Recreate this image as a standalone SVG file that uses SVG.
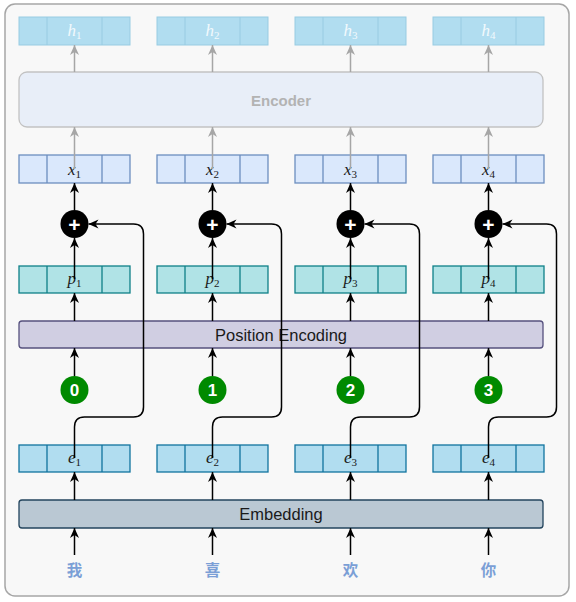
<svg xmlns="http://www.w3.org/2000/svg" width="576" height="602" viewBox="0 0 576 602">
<defs>
<style>
.frame{fill:#f8f8f8;stroke:#a6a6a6;stroke-width:1.5}
.hbox{fill:#b1ddf0;stroke:#98cbe2;stroke-width:1}
.xbox{fill:#dae8fc;stroke:#6c8ebf;stroke-width:1.3}
.pbox{fill:#b0e3e6;stroke:#0e8088;stroke-width:1.3}
.ebox{fill:#b1ddf0;stroke:#10739e;stroke-width:1.3}
.enc{fill:#e8eef8;stroke:#c2c2c2;stroke-width:1.3}
.pe{fill:#d0cee2;stroke:#56517e;stroke-width:1.3}
.emb{fill:#bac8d3;stroke:#23445d;stroke-width:1.3}
.lbl{font-family:"Liberation Serif",serif;font-style:italic;font-size:17px;fill:#1a1a1a;text-anchor:middle}
.lbl .s{font-style:normal;font-size:11px}
.hl{fill:#f2f9fd}
.bar{font-family:"Liberation Sans",Arial,sans-serif;font-size:16.5px;fill:#1a1a1a;text-anchor:middle}
.enct{font-family:"Liberation Sans",Arial,sans-serif;font-size:15px;font-weight:bold;fill:#b3b3b3;text-anchor:middle}
.plus{fill:#000}
.plust{font-family:"Liberation Sans",Arial,sans-serif;font-size:21px;font-weight:bold;fill:#fff;text-anchor:middle}
.num{fill:#008a00}
.numt{font-family:"Liberation Sans",Arial,sans-serif;font-size:17px;font-weight:bold;fill:#fff;text-anchor:middle}
.cn{font-family:"Noto Sans CJK SC",sans-serif;font-size:15.5px;font-weight:bold;fill:#7b9fd6;text-anchor:middle}
.a{fill:none;stroke:#000;stroke-width:1.5;marker-end:url(#ah)}
.g{fill:none;stroke:#a6a6a6;stroke-width:1.5;marker-end:url(#ahg)}
.r{fill:none;stroke:#000;stroke-width:1.5;marker-end:url(#ah)}
</style>
<marker id="ah" viewBox="0 0 10 10" refX="10" refY="5" markerWidth="10" markerHeight="10" markerUnits="userSpaceOnUse" orient="auto"><path d="M0,0.5 L10,5 L0,9.5 L3,5 Z" fill="#000"/></marker>
<marker id="ahg" viewBox="0 0 10 10" refX="10" refY="5" markerWidth="10" markerHeight="10" markerUnits="userSpaceOnUse" orient="auto"><path d="M0,0.5 L10,5 L0,9.5 L3,5 Z" fill="#a6a6a6"/></marker>
</defs>

<rect class="frame" x="5" y="4" width="564" height="592" rx="10"/>

<g id="encoder"><rect class="enc" x="19" y="72" width="524" height="55" rx="8"/><text class="enct" x="281" y="105.5">Encoder</text></g>
<g id="position-encoding"><rect class="pe" x="19" y="321" width="524" height="27" rx="3"/><text class="bar" x="281" y="340.5">Position Encoding</text></g>
<g id="embedding"><rect class="emb" x="19" y="500" width="524" height="28" rx="3"/><text class="bar" x="281" y="520">Embedding</text></g>

<g id="h1"><rect class="hbox" x="19" y="17" width="111" height="28"/><path class="hbox" d="M47,17V45M102,17V45"/><text class="lbl hl" x="74.5" y="36">h<tspan class="s" dy="3">1</tspan></text></g>
<g id="h2"><rect class="hbox" x="157" y="17" width="111" height="28"/><path class="hbox" d="M185,17V45M240,17V45"/><text class="lbl hl" x="212.5" y="36">h<tspan class="s" dy="3">2</tspan></text></g>
<g id="h3"><rect class="hbox" x="295" y="17" width="111" height="28"/><path class="hbox" d="M323,17V45M378,17V45"/><text class="lbl hl" x="350.5" y="36">h<tspan class="s" dy="3">3</tspan></text></g>
<g id="h4"><rect class="hbox" x="433" y="17" width="111" height="28"/><path class="hbox" d="M461,17V45M516,17V45"/><text class="lbl hl" x="488.5" y="36">h<tspan class="s" dy="3">4</tspan></text></g>

<g id="x1"><rect class="xbox" x="19" y="155" width="111" height="28"/><path class="xbox" d="M47,155V183M102,155V183"/><text class="lbl" x="74.5" y="175">x<tspan class="s" dy="3">1</tspan></text></g>
<g id="x2"><rect class="xbox" x="157" y="155" width="111" height="28"/><path class="xbox" d="M185,155V183M240,155V183"/><text class="lbl" x="212.5" y="175">x<tspan class="s" dy="3">2</tspan></text></g>
<g id="x3"><rect class="xbox" x="295" y="155" width="111" height="28"/><path class="xbox" d="M323,155V183M378,155V183"/><text class="lbl" x="350.5" y="175">x<tspan class="s" dy="3">3</tspan></text></g>
<g id="x4"><rect class="xbox" x="433" y="155" width="111" height="28"/><path class="xbox" d="M461,155V183M516,155V183"/><text class="lbl" x="488.5" y="175">x<tspan class="s" dy="3">4</tspan></text></g>

<g id="add1"><circle class="plus" cx="74.5" cy="224" r="14"/><text class="plust" x="74.5" y="231.5">+</text></g>
<g id="add2"><circle class="plus" cx="212.5" cy="224" r="14"/><text class="plust" x="212.5" y="231.5">+</text></g>
<g id="add3"><circle class="plus" cx="350.5" cy="224" r="14"/><text class="plust" x="350.5" y="231.5">+</text></g>
<g id="add4"><circle class="plus" cx="488.5" cy="224" r="14"/><text class="plust" x="488.5" y="231.5">+</text></g>

<g id="p1"><rect class="pbox" x="19" y="266" width="111" height="27"/><path class="pbox" d="M47,266V293M102,266V293"/><text class="lbl" x="74.5" y="284">p<tspan class="s" dy="3">1</tspan></text></g>
<g id="p2"><rect class="pbox" x="157" y="266" width="111" height="27"/><path class="pbox" d="M185,266V293M240,266V293"/><text class="lbl" x="212.5" y="284">p<tspan class="s" dy="3">2</tspan></text></g>
<g id="p3"><rect class="pbox" x="295" y="266" width="111" height="27"/><path class="pbox" d="M323,266V293M378,266V293"/><text class="lbl" x="350.5" y="284">p<tspan class="s" dy="3">3</tspan></text></g>
<g id="p4"><rect class="pbox" x="433" y="266" width="111" height="27"/><path class="pbox" d="M461,266V293M516,266V293"/><text class="lbl" x="488.5" y="284">p<tspan class="s" dy="3">4</tspan></text></g>

<g id="pos0"><circle class="num" cx="74.5" cy="390" r="14"/><text class="numt" x="74.5" y="396">0</text></g>
<g id="pos1"><circle class="num" cx="212.5" cy="390" r="14"/><text class="numt" x="212.5" y="396">1</text></g>
<g id="pos2"><circle class="num" cx="350.5" cy="390" r="14"/><text class="numt" x="350.5" y="396">2</text></g>
<g id="pos3"><circle class="num" cx="488.5" cy="390" r="14"/><text class="numt" x="488.5" y="396">3</text></g>

<g id="e1"><rect class="ebox" x="19" y="445" width="111" height="27"/><path class="ebox" d="M47,445V472M102,445V472"/><text class="lbl" x="74.5" y="463">e<tspan class="s" dy="3">1</tspan></text></g>
<g id="e2"><rect class="ebox" x="157" y="445" width="111" height="27"/><path class="ebox" d="M185,445V472M240,445V472"/><text class="lbl" x="212.5" y="463">e<tspan class="s" dy="3">2</tspan></text></g>
<g id="e3"><rect class="ebox" x="295" y="445" width="111" height="27"/><path class="ebox" d="M323,445V472M378,445V472"/><text class="lbl" x="350.5" y="463">e<tspan class="s" dy="3">3</tspan></text></g>
<g id="e4"><rect class="ebox" x="433" y="445" width="111" height="27"/><path class="ebox" d="M461,445V472M516,445V472"/><text class="lbl" x="488.5" y="463">e<tspan class="s" dy="3">4</tspan></text></g>

<g id="tok1"><text class="cn" x="74.5" y="576">我</text></g>
<g id="tok2"><text class="cn" x="212.5" y="576">喜</text></g>
<g id="tok3"><text class="cn" x="350.5" y="576">欢</text></g>
<g id="tok4"><text class="cn" x="488.5" y="576">你</text></g>

<g id="connectors">
<path class="a" d="M74.5,555V528"/>
<path class="a" d="M74.5,500V472"/>
<path class="a" d="M74.5,376V348"/>
<path class="a" d="M74.5,321V293"/>
<path class="a" d="M74.5,279V238"/>
<path class="a" d="M74.5,210V183"/>
<path class="g" d="M74.5,169V127"/>
<path class="g" d="M74.5,72V45"/>
<path class="r" d="M74.5,458V427Q74.5,417 84.5,417H133.5Q143.5,417 143.5,407V234Q143.5,224 133.5,224H88.5"/>
<path class="a" d="M212.5,555V528"/>
<path class="a" d="M212.5,500V472"/>
<path class="a" d="M212.5,376V348"/>
<path class="a" d="M212.5,321V293"/>
<path class="a" d="M212.5,279V238"/>
<path class="a" d="M212.5,210V183"/>
<path class="g" d="M212.5,169V127"/>
<path class="g" d="M212.5,72V45"/>
<path class="r" d="M212.5,458V427Q212.5,417 222.5,417H271.5Q281.5,417 281.5,407V234Q281.5,224 271.5,224H226.5"/>
<path class="a" d="M350.5,555V528"/>
<path class="a" d="M350.5,500V472"/>
<path class="a" d="M350.5,376V348"/>
<path class="a" d="M350.5,321V293"/>
<path class="a" d="M350.5,279V238"/>
<path class="a" d="M350.5,210V183"/>
<path class="g" d="M350.5,169V127"/>
<path class="g" d="M350.5,72V45"/>
<path class="r" d="M350.5,458V427Q350.5,417 360.5,417H409.5Q419.5,417 419.5,407V234Q419.5,224 409.5,224H364.5"/>
<path class="a" d="M488.5,555V528"/>
<path class="a" d="M488.5,500V472"/>
<path class="a" d="M488.5,376V348"/>
<path class="a" d="M488.5,321V293"/>
<path class="a" d="M488.5,279V238"/>
<path class="a" d="M488.5,210V183"/>
<path class="g" d="M488.5,169V127"/>
<path class="g" d="M488.5,72V45"/>
<path class="r" d="M488.5,458V427Q488.5,417 498.5,417H546.5Q556.5,417 556.5,407V234Q556.5,224 546.5,224H502.5"/>
</g>
</svg>
